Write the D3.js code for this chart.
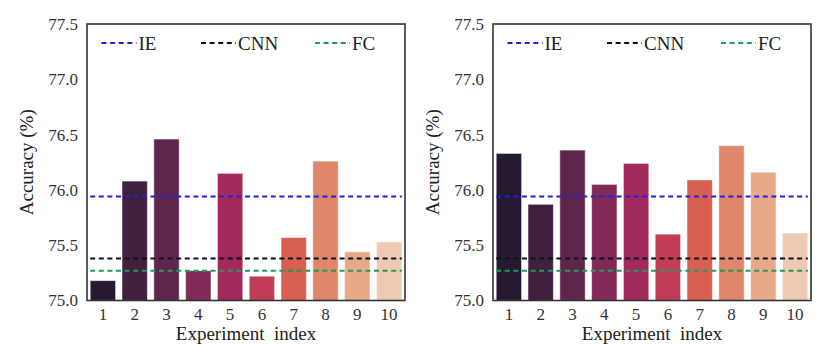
<!DOCTYPE html>
<html>
<head>
<meta charset="utf-8">
<script src="https://cdn.jsdelivr.net/npm/d3@7"></script>
<style>
  body { margin: 0; background: #fff; }
  svg { display: block; }
  svg text { font-family: "Liberation Serif", "Times New Roman", serif !important; }
</style>
</head>
<body>
<svg width="830" height="346"></svg>
<script>
const experiments = ["1", "2", "3", "4", "5", "6", "7", "8", "9", "10"];

// accuracy for each experiment, left and right panel
const accLeft  = [75.18, 76.08, 76.46, 75.27, 76.15, 75.22, 75.57, 76.26, 75.44, 75.53];
const accRight = [76.33, 75.87, 76.36, 76.05, 76.24, 75.60, 76.09, 76.40, 76.16, 75.61];

// baselines drawn as dashed lines
const baselineNames  = ["IE", "CNN", "FC"];
const baselineValues = [75.94, 75.38, 75.27];
const baselineColors = ["#2020e0", "#111111", "#1f9a58"];

const yTicks = [75.0, 75.5, 76.0, 76.5, 77.0, 77.5];

// rocket palette, desaturated like seaborn barplot
const barColors = ["#251a31", "#41203f", "#5e264d", "#822a57", "#a2295a",
                   "#c13d55", "#d76053", "#e0866a", "#e7a989", "#eecab2"];

const svg = d3.select("svg");

const panels = [
    { left: 87, values: accLeft },
    { left: 493, values: accRight }
];
const plotTop = 24, plotBottom = 300.5, plotWidth = 318;

const y = d3.scaleLinear().domain([75.0, 77.5]).range([plotBottom, plotTop]);

panels.forEach(p => {
    const g = svg.append("g");

    const x = d3.scaleBand()
        .domain(experiments)
        .range([p.left, p.left + plotWidth])
        .paddingInner(0.2)
        .paddingOuter(0.1);

    // bars
    g.selectAll(".bar")
        .data(p.values)
        .enter().append("rect")
        .attr("class", "bar")
        .attr("x", (d, i) => x(experiments[i]))
        .attr("y", d => y(d))
        .attr("width", x.bandwidth())
        .attr("height", d => y(75.0) - y(d))
        .attr("fill", (d, i) => barColors[i])
        .attr("stroke", "#fff")
        .attr("stroke-opacity", 0.55)
        .attr("stroke-width", 1);

    // baseline dashed lines from first bar to last bar
    const x0 = x(experiments[0]);
    const x1 = x(experiments[experiments.length - 1]) + x.bandwidth();
    g.selectAll(".base")
        .data(baselineValues)
        .enter().append("line")
        .attr("class", "base")
        .attr("x1", x0)
        .attr("x2", x1)
        .attr("y1", d => y(d))
        .attr("y2", d => y(d))
        .attr("stroke", (d, i) => baselineColors[i])
        .attr("stroke-width", 2)
        .attr("stroke-dasharray", "5,3.6");

    // frame
    g.append("rect")
        .attr("x", p.left)
        .attr("y", plotTop)
        .attr("width", plotWidth)
        .attr("height", plotBottom - plotTop)
        .attr("fill", "none")
        .attr("stroke", "#333")
        .attr("stroke-width", 1.6);

    // y axis tick labels
    const yAxis = d3.axisLeft(y).tickValues(yTicks).tickSize(0).tickPadding(9)
        .tickFormat(d3.format(".1f"));
    const ya = g.append("g").attr("transform", `translate(${p.left},0)`).call(yAxis);
    ya.select(".domain").remove();
    ya.selectAll("text")
        .style("font-size", "17px")
        .attr("fill", "#333");

    // x axis tick labels
    const xAxis = d3.axisBottom(x).tickSize(0).tickPadding(7);
    const xa = g.append("g").attr("transform", `translate(0,${plotBottom})`).call(xAxis);
    xa.select(".domain").remove();
    xa.selectAll("text")
        .style("font-size", "17px")
        .attr("fill", "#333");

    // axis titles
    g.append("text")
        .attr("x", p.left + plotWidth / 2)
        .attr("y", 340)
        .attr("text-anchor", "middle")
        .style("font-size", "19px")
        .attr("fill", "#222")
        .style("white-space", "pre")
        .text("Experiment  index");

    g.append("text")
        .attr("transform", `translate(${p.left - 54},${(plotTop + plotBottom) / 2}) rotate(-90)`)
        .attr("text-anchor", "middle")
        .style("font-size", "19px")
        .attr("fill", "#222")
        .text("Accuracy (%)");

    // legend
    const legendX = [14.5, 114, 228];
    const leg = g.selectAll(".leg")
        .data(baselineNames)
        .enter().append("g")
        .attr("class", "leg")
        .attr("transform", (d, i) => `translate(${p.left + legendX[i]},43)`);
    leg.append("line")
        .attr("x1", 0).attr("x2", 35)
        .attr("stroke", (d, i) => baselineColors[i])
        .attr("stroke-width", 2)
        .attr("stroke-dasharray", "5,3.6");
    leg.append("text")
        .attr("x", 37)
        .attr("y", 6.5)
        .style("font-size", "19px")
        .attr("fill", "#222")
        .text(d => d);
});
</script>
</body>
</html>
